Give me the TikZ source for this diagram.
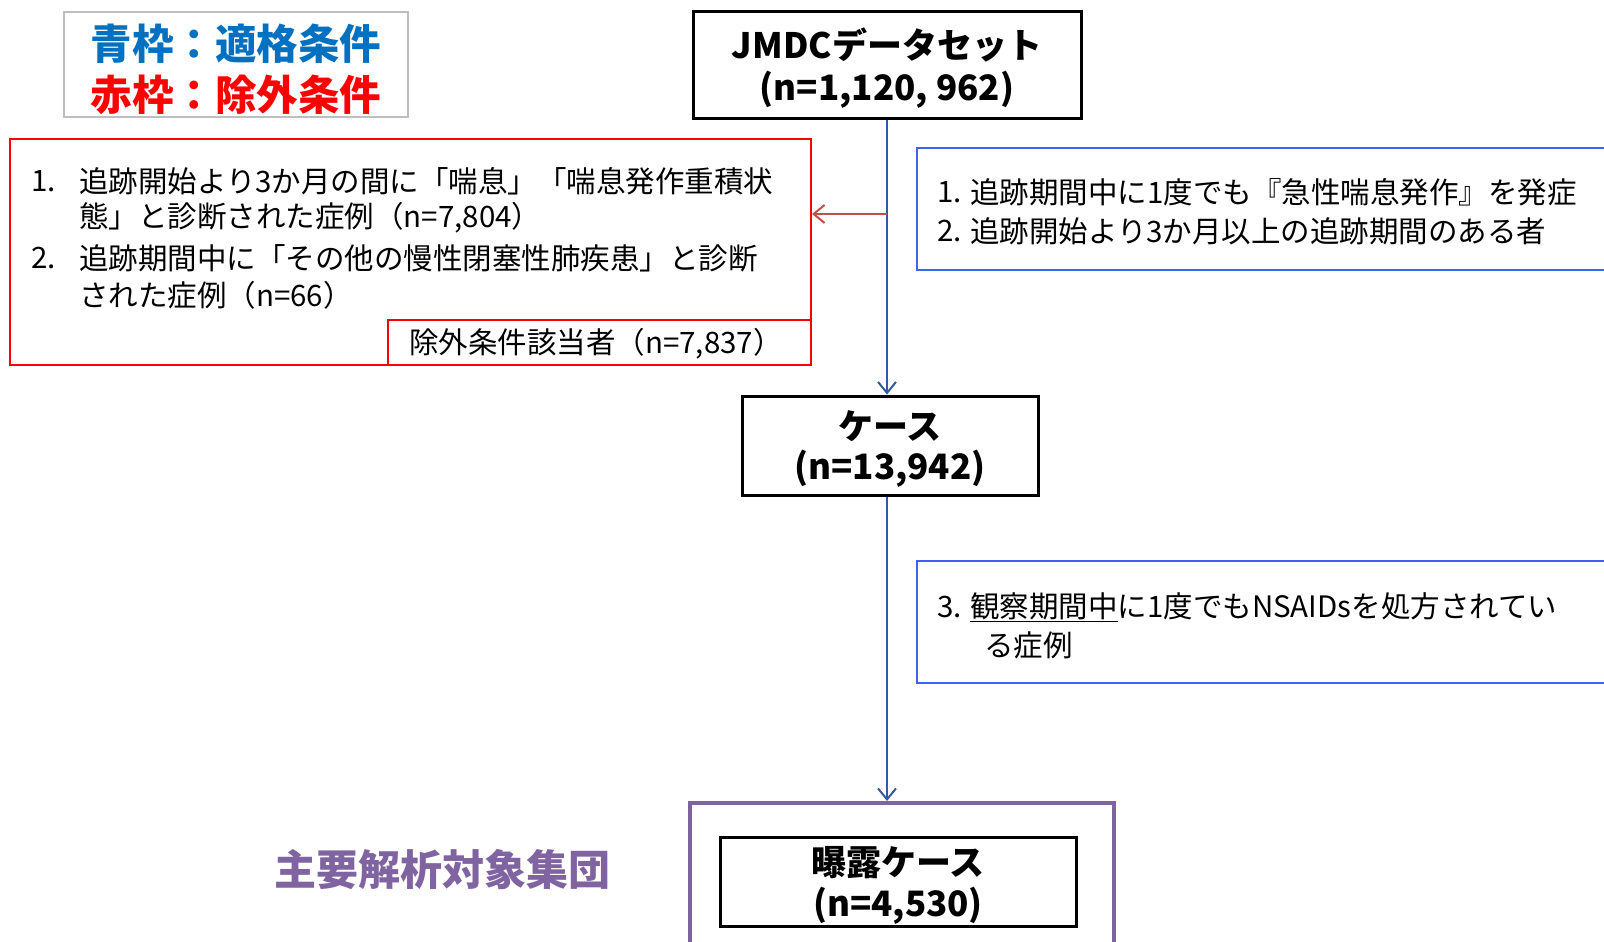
\documentclass[tikz,border=0pt]{standalone}
\usepackage{fontspec}
\setmainfont{Noto Sans CJK JP}
\usetikzlibrary{arrows.meta}
\definecolor{legblue}{RGB}{0,112,192}
\definecolor{legred}{RGB}{255,0,0}
\definecolor{boxblue}{RGB}{60,100,240}
\definecolor{trunk}{RGB}{50,90,160}
\definecolor{arrred}{RGB}{192,80,77}
\definecolor{purp}{RGB}{128,100,162}
\definecolor{leggray}{RGB}{190,190,190}
\begin{document}
\begin{tikzpicture}[x=1pt,y=-1pt,
  blackbox/.style={draw=black,line width=3pt,inner sep=0pt},
  boldtxt/.style={inner sep=0pt,font=\fontsize{35}{42}\selectfont\bfseries},
  redframe/.style={draw=legred,line width=2pt,inner sep=0pt},
  blueframe/.style={draw=boxblue,line width=2.5pt,inner sep=0pt},
  txt/.style={anchor=west,inner sep=0pt,font=\fontsize{29.5}{34}\selectfont},
  flow/.style={draw=trunk,line width=2pt,-{Straight Barb[length=11pt,width=18pt,line width=2pt]}},
  side/.style={draw=arrred,line width=2pt,-{Straight Barb[length=11pt,width=18pt,line width=2pt]}}]
\useasboundingbox (0,0) rectangle (1604,942);
\clip (0,0) rectangle (1604,942);
\fill[white] (0,0) rectangle (1604,942);

% legend
\node[draw=leggray,line width=2pt,minimum width=344pt,minimum height=105pt,inner sep=0pt] (legend) at (236,64.5) {};
\node[inner sep=0pt,font=\fontsize{41.5}{48}\selectfont\bfseries,text=legblue] (leg1) at (236,44) {青枠：適格条件};
\node[inner sep=0pt,font=\fontsize{41.5}{48}\selectfont\bfseries,text=legred] (leg2) at (236,95) {赤枠：除外条件};

% JMDC box
\node[blackbox,minimum width=388pt,minimum height=106pt] (jmdc) at (887,65) {};
\node[boldtxt] (jmdc1) at (887,45) {JMDCデータセット};
\node[boldtxt] (jmdc2) at (887,90) {(n=1,120, 962)};

% red exclusion box
\node[redframe,minimum width=801pt,minimum height=226pt] (redbox) at (410.5,252) {};
\node[txt] (r1n) at (31,181) {1.};
\node[txt] (r1a) at (79,181) {追跡開始より3か月の間に「喘息」「喘息発作重積状};
\node[txt] (r1b) at (79,218) {態」と診断された症例（n=7,804）};
\node[txt] (r2n) at (31,258) {2.};
\node[txt] (r2a) at (79,258) {追跡期間中に「その他の慢性閉塞性肺疾患」と診断};
\node[txt] (r2b) at (79,295) {された症例（n=66）};
\node[redframe,minimum width=423pt,minimum height=45pt] (redsum) at (599.5,342.5) {};
\node[txt] (redsumt) at (409,344) {除外条件該当者（n=7,837）};

% blue eligibility box 1
\node[blueframe,minimum width=703pt,minimum height=122pt] (blue1) at (1268.5,209) {};
\node[txt] (b1n) at (937,192) {1.};
\node[txt] (b1a) at (970,192) {追跡期間中に1度でも『急性喘息発作』を発症};
\node[txt] (b2n) at (937,231) {2.};
\node[txt] (b2a) at (970,231) {追跡開始より3か月以上の追跡期間のある者};

% case box
\node[blackbox,minimum width=296pt,minimum height=99pt] (case) at (890,445.5) {};
\node[boldtxt] (case1) at (890,426) {ケース};
\node[boldtxt] (case2) at (890,469) {(n=13,942)};

% blue eligibility box 2
\node[blueframe,minimum width=703pt,minimum height=122pt] (blue2) at (1268.5,622) {};
\node[txt] (b3n) at (937,607) {3.};
\node[txt] (b3a) at (970,607) {\underline{観察期間中}に1度でもNSAIDsを処方されてい};
\node[txt] (b3b) at (984,645) {る症例};

% purple analysis group
\node[draw=purp,line width=4pt,minimum width=424pt,minimum height=160pt,inner sep=0pt] (purple) at (902,883) {};
\node[blackbox,minimum width=356pt,minimum height=89pt] (expo) at (898,881.5) {};
\node[boldtxt] (expo1) at (898,863) {曝露ケース};
\node[boldtxt] (expo2) at (898,906) {(n=4,530)};
\node[inner sep=0pt,font=\fontsize{42}{48}\selectfont\bfseries,text=purp] (grouplabel) at (442,870) {主要解析対象集団};

% connectors
\coordinate (top) at (jmdc.south -| 887,0);
\coordinate (mid) at (case.south -| 887,0);
\draw[flow] (top) -- (top |- case.north);
\draw[flow] (mid) -- (mid |- purple.north);
\coordinate (branch) at (887,214);
\draw[side] (branch) -- (branch -| redbox.east);
\end{tikzpicture}
\end{document}
